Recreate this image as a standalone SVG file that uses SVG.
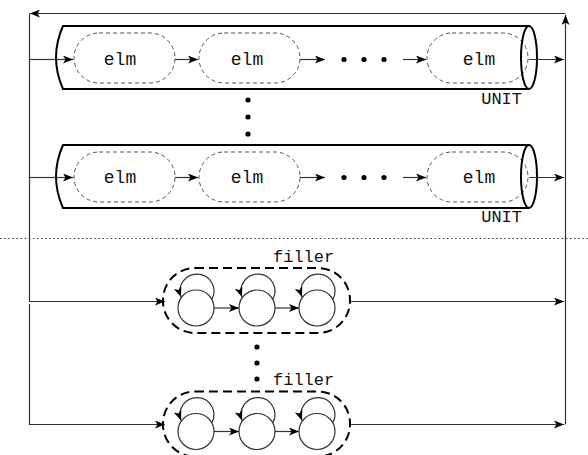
<svg xmlns="http://www.w3.org/2000/svg" width="588" height="455" viewBox="0 0 588 455">
<defs>
<marker id="ar" viewBox="0 0 10 8" refX="10" refY="4" markerWidth="10" markerHeight="8" markerUnits="userSpaceOnUse" orient="auto">
<path d="M0,0 L10,4 L0,8 L2.5,4 z" fill="#000"/>
</marker>
<style>
.ln{fill:none;stroke:#333;stroke-width:1.2}
.unit{fill:#fff;stroke:#000;stroke-width:2}
.lens{fill:none;stroke:#000;stroke-width:2}
.elm{fill:none;stroke:#555;stroke-width:1;stroke-dasharray:4 3}
.filler{fill:none;stroke:#000;stroke-width:2;stroke-dasharray:9 5}
.st{fill:#fff;stroke:#333;stroke-width:1.2}
.t{font-family:"Liberation Mono","DejaVu Sans Mono",monospace;font-size:17px;fill:#111}
.te{font-size:18px}
.dot{fill:#000}
.sep{fill:none;stroke:#333;stroke-width:1.2;stroke-dasharray:1.5 2.6}
</style>
</defs>
<line class="sep" x1="0" y1="238.5" x2="588" y2="238.5"/>
<g id="connectors">
<path class="ln" d="M565.5,424.5 V15" marker-end="url(#ar)"/>
<path class="ln" d="M565.5,13.5 H30" marker-end="url(#ar)"/>
<path class="ln" d="M29.5,13.5 V301.5 H165" marker-end="url(#ar)"/>
<path class="ln" d="M29.5,304 V424.5 H165" marker-end="url(#ar)"/>
<path class="ln" d="M29.5,59.5 H60"/>
<path class="ln" d="M29.5,177.5 H60"/>
<path class="ln" d="M350,301.5 H564" marker-end="url(#ar)"/>
<path class="ln" d="M350,424.5 H564" marker-end="url(#ar)"/>
</g>
<g id="unit1">
<path class="unit" d="M529,26 L63,26 Q49,57.5 63,89 L529,89"/>
<path class="ln" d="M56,59.5 H73" marker-end="url(#ar)"/>
<rect class="elm" x="74" y="33" width="101" height="50" rx="25"/>
<text class="t te" x="120" y="65" text-anchor="middle">elm</text>
<rect class="elm" x="199" y="33" width="101" height="50" rx="25"/>
<text class="t te" x="247" y="65" text-anchor="middle">elm</text>
<rect class="elm" x="427" y="33" width="101" height="50" rx="25"/>
<text class="t te" x="479" y="65" text-anchor="middle">elm</text>
<path class="ln" d="M175,59.5 H198" marker-end="url(#ar)"/>
<path class="ln" d="M300,59.5 H325" marker-end="url(#ar)"/>
<path class="ln" d="M403,59.5 H426" marker-end="url(#ar)"/>
<circle class="dot" cx="344" cy="59.5" r="2.6"/>
<circle class="dot" cx="364" cy="59.5" r="2.6"/>
<circle class="dot" cx="384" cy="59.5" r="2.6"/>
<ellipse class="lens" cx="529" cy="57.5" rx="8" ry="31.5"/>
<path class="ln" d="M529,59.5 H564" marker-end="url(#ar)"/>
<text class="t" x="522" y="104" text-anchor="end">UNIT</text>
</g>
<g id="vdots1">
<circle class="dot" cx="248" cy="100" r="2.6"/>
<circle class="dot" cx="248" cy="117" r="2.6"/>
<circle class="dot" cx="248" cy="134" r="2.6"/>
</g>
<g id="unit2">
<path class="unit" d="M529,145 L63,145 Q49,176.5 63,208 L529,208"/>
<path class="ln" d="M56,177.5 H73" marker-end="url(#ar)"/>
<rect class="elm" x="74" y="152" width="101" height="50" rx="25"/>
<text class="t te" x="120" y="183" text-anchor="middle">elm</text>
<rect class="elm" x="199" y="152" width="101" height="50" rx="25"/>
<text class="t te" x="247" y="183" text-anchor="middle">elm</text>
<rect class="elm" x="427" y="152" width="101" height="50" rx="25"/>
<text class="t te" x="479" y="183" text-anchor="middle">elm</text>
<path class="ln" d="M175,177.5 H198" marker-end="url(#ar)"/>
<path class="ln" d="M300,177.5 H325" marker-end="url(#ar)"/>
<path class="ln" d="M403,177.5 H426" marker-end="url(#ar)"/>
<circle class="dot" cx="344" cy="177.5" r="2.6"/>
<circle class="dot" cx="364" cy="177.5" r="2.6"/>
<circle class="dot" cx="384" cy="177.5" r="2.6"/>
<ellipse class="lens" cx="529" cy="176.5" rx="8" ry="31.5"/>
<path class="ln" d="M529,177.5 H564" marker-end="url(#ar)"/>
<text class="t" x="522" y="222" text-anchor="end">UNIT</text>
</g>
<g id="filler1">
<rect class="filler" x="163" y="268" width="187" height="65" rx="32"/>
<text class="t" x="273" y="262">filler</text>
<circle class="st" cx="196" cy="308" r="18"/>
<circle class="st" cx="257" cy="308" r="18"/>
<circle class="st" cx="317" cy="308" r="18"/>
<path class="ln" d="M212,299 A17 17 0 1 0 181,297" marker-end="url(#ar)"/>
<path class="ln" d="M273,299 A17 17 0 1 0 242,297" marker-end="url(#ar)"/>
<path class="ln" d="M333,299 A17 17 0 1 0 302,297" marker-end="url(#ar)"/>
<path class="ln" d="M214,308 H239" marker-end="url(#ar)"/>
<path class="ln" d="M275,308 H299" marker-end="url(#ar)"/>
</g>
<g id="vdots2">
<circle class="dot" cx="257" cy="347" r="2.6"/>
<circle class="dot" cx="257" cy="363" r="2.6"/>
<circle class="dot" cx="257" cy="379" r="2.6"/>
</g>
<g id="filler2">
<rect class="filler" x="163" y="391.5" width="187" height="65" rx="32"/>
<text class="t" x="273" y="385">filler</text>
<circle class="st" cx="196" cy="431.5" r="18"/>
<circle class="st" cx="257" cy="431.5" r="18"/>
<circle class="st" cx="317" cy="431.5" r="18"/>
<path class="ln" d="M212,422.5 A17 17 0 1 0 181,420.5" marker-end="url(#ar)"/>
<path class="ln" d="M273,422.5 A17 17 0 1 0 242,420.5" marker-end="url(#ar)"/>
<path class="ln" d="M333,422.5 A17 17 0 1 0 302,420.5" marker-end="url(#ar)"/>
<path class="ln" d="M214,431.5 H239" marker-end="url(#ar)"/>
<path class="ln" d="M275,431.5 H299" marker-end="url(#ar)"/>
</g>
</svg>
